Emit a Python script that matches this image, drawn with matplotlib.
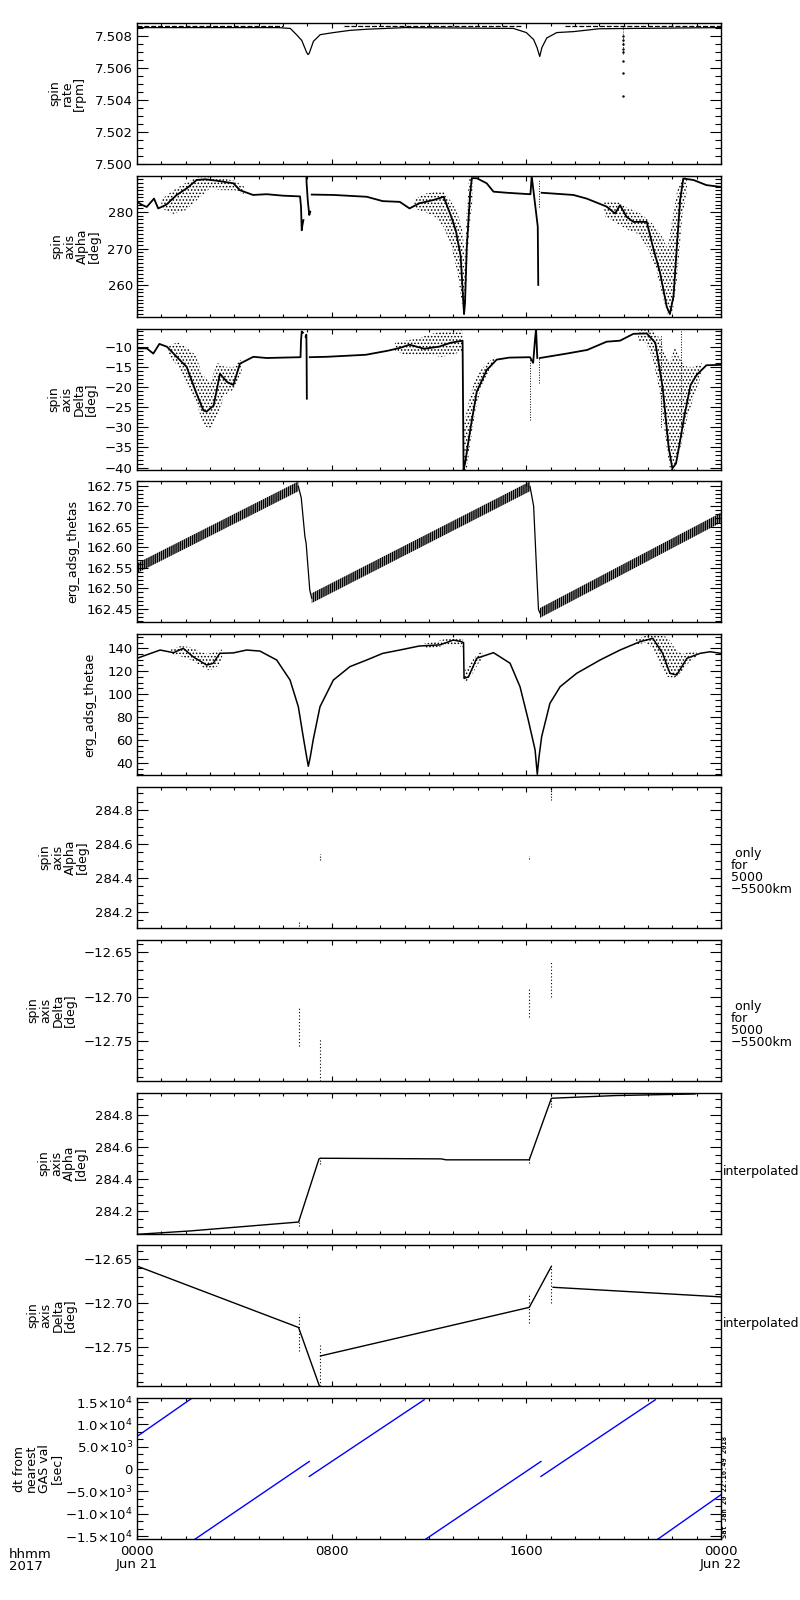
import numpy as np
import matplotlib
matplotlib.use("Agg")
import matplotlib.pyplot as plt
from matplotlib.ticker import MultipleLocator, FuncFormatter

plt.rcParams['font.family'] = ['DejaVu Sans']
plt.rcParams['hatch.linewidth'] = 0.7

# ---- panel 1: spin rate [rpm]
rate_t = [0, 5.8, 6.3, 6.56, 6.77, 6.97, 7.03, 7.08, 7.25, 7.53, 8.08, 8.76, 9.44, 11, 15.47, 16.0,
          16.3, 16.44, 16.55, 16.64, 16.84, 17.25, 17.94, 19.0, 24]
rate_v = [7.50855, 7.50855, 7.50850, 7.50810, 7.50775, 7.50700, 7.50686, 7.50695, 7.50769, 7.50811,
          7.50824, 7.50838, 7.50845, 7.50855, 7.50850, 7.50824, 7.50780, 7.50730, 7.50674, 7.50730,
          7.50790, 7.50824, 7.50830, 7.50848, 7.50855]
strand_t = [0, 6.0, np.nan, 8.5, 15.8, np.nan, 17.6, 24]
strand_v = [7.50868, 7.50868, np.nan, 7.50868, 7.50868, np.nan, 7.50868, 7.50868]
outl_t = [19.98] * 8
outl_v = [7.5080, 7.5078, 7.5075, 7.5072, 7.5070, 7.50643, 7.5057, 7.50429]

# ---- panel 2: spin axis alpha
alpha_t = [0, 0.2, 0.4, 0.7, 0.87, 1.2, 1.63, 2.04, 2.45, 2.8, 3.28, 3.96, 4.23, 4.77, 5.33, 6.0, 6.7,
           6.74, 6.77, 6.80, 6.84]
alpha_v = [282.8, 282.0, 281.4, 283.7, 281.0, 282.0, 284.7, 286.5, 288.8, 289.0, 288.6, 287.9, 286.0,
           284.7, 284.9, 284.5, 284.3, 281.5, 275, 276.5, 277.8]
alpha_t2 = [6.96, 6.97, 7.02, 7.08, 7.12]
alpha_v2 = [289.9, 288, 283, 279.2, 280.1]
alpha_t3 = [7.18, 8.07, 9.44, 10.1, 10.8, 11.2, 11.6, 12.18, 12.6, 12.9, 13.1, 13.3, 13.44, 13.48,
            13.55, 13.69, 13.76, 13.96, 14.37, 14.65, 15.2, 16.15, 16.17, 16.22, 16.47, 16.49]
alpha_v3 = [284.8, 284.7, 284.2, 283.0, 282.8, 281.0, 282.4, 283.3, 284.2, 279, 275, 268, 252, 255,
            270, 285, 289.3, 289.3, 287.9, 285.6, 285.3, 284.9, 284.9, 289.9, 276, 260]
alpha_t4 = [16.63, 17.93, 18.48, 19.3, 19.65, 19.85, 20.12, 20.4, 20.95, 21.2, 21.5, 21.77, 21.9,
            22.05, 22.2, 22.32, 22.45, 22.87, 23.4, 24]
alpha_v4 = [285.3, 284.7, 283.7, 281.5, 279.6, 281.9, 278.7, 277.3, 277.3, 270.5, 263.2, 254, 252,
            257, 272, 283.3, 289.2, 288.8, 287.4, 286.9]
alpha_cloud_t = [[1.0, 1.5, 2.0, 2.5, 3.0, 3.5, 4.0, 4.4],
                 [11.4, 11.8, 12.2, 12.6, 12.9, 13.15, 13.35, 13.45],
                 [13.45, 13.55, 13.65, 13.8],
                 [19.2, 19.7, 20.2, 20.6, 21.0, 21.3, 21.6, 21.8, 22.0, 22.2, 22.4, 22.6]]
alpha_cloud_lo = [[281, 279.5, 280.5, 283.5, 286.5, 286, 286, 285],
                  [281, 280, 279, 276, 271, 264, 255, 252],
                  [252, 262, 275, 284],
                  [279, 277, 275, 274, 270, 265, 257, 252, 252, 262, 278, 286]]
alpha_cloud_hi = [[283.5, 286, 288, 289.6, 289.6, 289.3, 288.6, 287],
                  [283.5, 285, 285.5, 285.5, 283, 280, 276, 270],
                  [262, 280, 289.5, 289.9],
                  [283, 283, 281, 280, 278, 276, 273, 270, 278, 286, 289.8, 289.8]]

# ---- panel 3: spin axis delta
delta_t = [0, 0.4, 0.67, 0.92, 1.23, 1.63, 2.04, 2.45, 2.73, 2.86, 3.15, 3.41, 3.7, 3.96, 4.23, 4.78,
           5.33, 6.0, 6.72, 6.74, 6.77, 6.82]
delta_v = [-10.4, -10.4, -11.7, -9.3, -10.0, -12.5, -15.0, -21.7, -25.8, -26.1, -24.6, -16.7, -18.75,
           -19.5, -14.2, -12.5, -12.8, -12.7, -12.6, -8.5, -6.2, -6.5]
delta_t2 = [6.93, 6.96, 6.97, 6.98]
delta_v2 = [-7.5, -7.0, -12, -22.9]
delta_t3 = [7.1, 7.8, 9.4, 10.3, 10.8, 11.2, 11.8, 12.4, 12.9, 13.38, 13.42, 13.48, 13.69, 13.96,
            14.37, 14.78, 15.3, 16.15, 16.28, 16.36, 16.40, 16.45]
delta_v3 = [-12.6, -12.5, -12.0, -11.0, -10.3, -9.5, -10.5, -10.0, -9.0, -8.5, -40.6, -39, -30.8,
            -21.2, -15.8, -13.2, -12.7, -12.6, -14, -8, -5.6, -12.8]
delta_t4 = [16.56, 17.66, 18.5, 19.3, 19.85, 20.4, 20.95, 21.3, 21.6, 21.85, 22.0, 22.15, 22.3, 22.5,
            22.75, 23.0, 23.4, 24]
delta_v4 = [-12.8, -11.7, -10.8, -8.75, -8.5, -6.8, -6.7, -9, -20, -35, -40.2, -39, -34, -27, -19.5,
            -17, -14.6, -14.5]
delta_cloud_t = [[1.3, 1.7, 2.0, 2.4, 2.7, 3.0, 3.3, 3.6, 4.0, 4.3],
                 [10.6, 11.0, 11.5, 12.0, 12.5, 13.0, 13.38],
                 [13.42, 13.55, 13.7, 13.9, 14.1, 14.4, 14.7],
                 [20.6, 20.9, 21.2, 21.5, 21.7, 21.9, 22.1, 22.3, 22.6, 22.9, 23.2]]
delta_cloud_lo = [[-12, -15, -19, -23, -29, -30.8, -27, -22, -20.5, -16],
                  [-11, -12, -12, -12, -12.5, -12, -11],
                  [-40.6, -40.6, -34, -26, -21, -17, -14],
                  [-8.5, -9, -13, -22, -32, -40.6, -40.6, -36, -28, -22, -17]]
delta_cloud_hi = [[-9.5, -9, -10, -12, -17, -19, -14, -15, -15, -13],
                  [-9, -8.5, -8, -7, -6.2, -6, -6],
                  [-30, -26, -22, -18, -16, -14, -12.5],
                  [-5.8, -5.8, -6, -8, -12, -14, -10, -13, -15, -15, -14]]
delta_dots = [(16.17, -28.3, -12.6), (16.53, -19, -12.8), (21.55, -30, -7), (22.35, -32, -6)]

# ---- panel 4: erg_adsg_thetas
thetas_band_t = [[0, 6.63], [7.18, 16.15], [16.56, 24]]
thetas_band_lo = [[162.537, 162.736], [162.464, 162.736], [162.428, 162.660]]
thetas_band_hi = [[162.561, 162.760], [162.488, 162.760], [162.452, 162.684]]
thetas_drop_t = [[6.63, 6.75, 6.9, 6.95, 7.1, 7.18], [16.15, 16.3, 16.44, 16.5, 16.56]]
thetas_drop_v = [[162.748, 162.72, 162.626, 162.61, 162.496, 162.476],
                 [162.748, 162.70, 162.52, 162.448, 162.44]]

# ---- panel 5: erg_adsg_thetae
thetae_t = [0, 0.95, 1.5, 1.9, 2.3, 2.86, 3.13, 3.4, 3.96, 4.5, 5.05, 5.74, 6.29, 6.63, 6.83, 6.97,
            7.04, 7.12, 7.24, 7.52, 8.07, 8.75, 9.44, 10.1, 10.8, 11.6, 12.45, 13.0, 13.3, 13.42,
            13.44, 13.62, 13.96, 14.65, 15.33, 15.74, 16.08, 16.36, 16.45, 16.52, 16.63, 16.97,
            17.39, 18.07, 19.03, 19.85, 20.67, 21.2, 21.6, 21.9, 22.18, 22.6, 23.14, 23.55, 24]
thetae_v = [131.3, 138.5, 136.2, 140, 132.7, 125.4, 126.9, 135.6, 136, 138.5, 137.6, 129.8, 112.3,
            89, 62.9, 45.4, 37, 45, 60, 89, 112.3, 124, 129.8, 135.6, 138.5, 142, 143, 147.2, 146,
            145, 113.8, 115, 131.3, 136.2, 127, 106.5, 77.4, 51.3, 30, 45, 62.9, 92, 106.5, 118.2,
            129.8, 138.5, 145.8, 148.7, 135.6, 118.2, 116.7, 131.3, 135.6, 137, 135.6]
thetae_cloud_t = [[1.4, 1.8, 2.2, 2.6, 2.9, 3.2, 3.5],
                  [11.8, 12.3, 12.8, 13.2, 13.4],
                  [13.44, 13.6, 13.8, 14.0, 14.2],
                  [20.5, 20.9, 21.2, 21.5, 21.8, 22.1, 22.4, 22.7, 23.0]]
thetae_cloud_lo = [[134, 133, 130, 125, 121, 122, 130],
                   [140, 141, 143, 143, 140],
                   [110, 112, 118, 126, 131],
                   [143, 145, 140, 125, 115, 114, 120, 128, 133]]
thetae_cloud_hi = [[139, 142, 141, 137, 135, 137, 139],
                   [144, 146, 149, 149, 148],
                   [120, 124, 130, 135, 138],
                   [148, 151, 152, 151, 150, 140, 135, 137, 138]]

# ---- panels 6/7: only for 5000-5500 km (time, low, high)
alpha_sel = [(6.64, 284.115, 284.14), (7.54, 284.505, 284.54), (16.12, 284.51, 284.53),
             (17.03, 284.86, 284.935)]
delta_sel = [(6.64, -12.755, -12.713), (7.54, -12.795, -12.748), (16.12, -12.723, -12.691),
             (17.03, -12.70, -12.66)]

# ---- panels 8/9: interpolated
alpha_int_t = [0, 2.17, 6.64, 7.48, 7.54, 12.5, 12.7, 16.12, 17.03, 19.66, 22.93]
alpha_int_v = [284.053, 284.074, 284.13, 284.526, 284.53, 284.526, 284.52, 284.52, 284.906, 284.923,
               284.933]
delta_int_t = [[0, 6.64, 7.56], [7.54, 16.12, 17.03], [17.1, 24]]
delta_int_v = [[-12.6577, -12.728, -12.80], [-12.7606, -12.705, -12.658], [-12.682, -12.693]]

# ---- panel 10: dt from nearest GAS val
dt_t0 = [0, 2.38, 7.08, 11.86, 16.6, 21.4]
dt_t1 = [2.27, 7.08, 11.8, 16.6, 21.3, 24]
dt_v0 = [7300, -15700, -1650, -15700, -1650, -15700]
dt_v1 = [15900, 1700, 15500, 1700, 15500, -5740]

ylabels = ["spin\nrate\n[rpm]", "spin\naxis\nAlpha\n[deg]", "spin\naxis\nDelta\n[deg]",
           "erg_adsg_thetas", "erg_adsg_thetae", "spin\naxis\nAlpha\n[deg]",
           "spin\naxis\nDelta\n[deg]", "spin\naxis\nAlpha\n[deg]", "spin\naxis\nDelta\n[deg]",
           "dt from\nnearest\nGAS val\n[sec]"]
ylabel_x = [67, 76, 73, 73, 90, 64, 52, 63, 52, 38]
ylims = [(7.500, 7.50884), (251.2, 289.9), (-40.6, -5.6), (162.418, 162.761), (29.4, 152.5),
         (284.104, 284.936), (-12.795, -12.636), (284.055, 284.939), (-12.795, -12.6336),
         (-15650, 15900)]
majors = [0.002, 10, 5, 0.05, 20, 0.2, 0.05, 0.2, 0.05, 5000]
minors = [0.0005, 1, 1, 0.01, 5, 0.05, 0.01, 0.05, 0.01, 5000 / 3]
decimals = [3, 0, 0, 2, 0, 1, 2, 1, 2, None]


def dt_fmt(v, pos):
    if abs(v) < 1:
        return "0"
    e = int(np.floor(np.log10(abs(v))))
    m = v / 10 ** e
    s = r"$%.1f{\times}10^{%d}$" % (abs(m), e)
    return ("\u2212" if v < 0 else "") + s


def num_fmt(nd):
    return FuncFormatter(lambda v, p: ("%.*f" % (nd, v)).replace("-", "\u2212"))


W, H = 800, 1600
fig = plt.figure(figsize=(8, 16), dpi=100)
tops = [23, 176, 329, 481, 634, 787, 940, 1093, 1245, 1398]
left, right, ph = 137, 721, 141
axes = []
for i in range(10):
    ax = fig.add_axes([left / W, 1 - (tops[i] + ph) / H, (right - left) / W, ph / H])
    ax.set_xlim(0, 24)
    ax.set_ylim(*ylims[i])
    ax.xaxis.set_major_locator(MultipleLocator(8))
    ax.xaxis.set_minor_locator(MultipleLocator(1))
    ax.yaxis.set_major_locator(MultipleLocator(majors[i]))
    ax.yaxis.set_minor_locator(MultipleLocator(minors[i]))
    if decimals[i] is None:
        ax.yaxis.set_major_formatter(FuncFormatter(dt_fmt))
    else:
        ax.yaxis.set_major_formatter(num_fmt(decimals[i]))
    ax.tick_params(which='both', direction='in', top=True, right=True, width=0.8,
                   labelsize=9.5, pad=3)
    ax.tick_params(axis='y', which='major', length=8)
    ax.tick_params(axis='y', which='minor', length=4)
    ax.tick_params(axis='x', which='major', length=3.5)
    ax.tick_params(axis='x', which='minor', length=2)
    ax.tick_params(axis='x', labelbottom=False)
    for sp in ax.spines.values():
        sp.set_linewidth(1.0)
    fig.text(ylabel_x[i] / W, 1 - (tops[i] + ph / 2) / H, ylabels[i], rotation=90,
             ha='center', va='center', multialignment='center', fontsize=9, linespacing=0.95)
    axes.append(ax)


def clouds(ax, ts, los, his):
    for t, lo, hi in zip(ts, los, his):
        ax.fill_between(t, lo, hi, facecolor='none', edgecolor='black', hatch='.....', linewidth=0)


# panel 1
ax = axes[0]
ax.plot(rate_t, rate_v, color='black', lw=0.9)
ax.plot(strand_t, strand_v, color='black', lw=0.9, ls=(0, (4, 1.5)))
ax.plot(outl_t, outl_v, 'k.', ms=1.5)
ax.vlines(19.98, 7.5069, 7.5086, color='black', lw=0.6, ls=':')

# panel 2
ax = axes[1]
clouds(ax, alpha_cloud_t, alpha_cloud_lo, alpha_cloud_hi)
for t, v in [(alpha_t, alpha_v), (alpha_t2, alpha_v2), (alpha_t3, alpha_v3), (alpha_t4, alpha_v4)]:
    ax.plot(t, v, color='black', lw=1.3)
ax.vlines(16.53, 281.5, 288.8, color='black', lw=0.7, ls=':')

# panel 3
ax = axes[2]
clouds(ax, delta_cloud_t, delta_cloud_lo, delta_cloud_hi)
for t, v in [(delta_t, delta_v), (delta_t2, delta_v2), (delta_t3, delta_v3), (delta_t4, delta_v4)]:
    ax.plot(t, v, color='black', lw=1.3)
for t, lo, hi in delta_dots:
    ax.vlines(t, lo, hi, color='black', lw=0.7, ls=':')

# panel 4: striped band
ax = axes[3]
plt.rcParams['hatch.linewidth'] = 1.1
for t, lo, hi in zip(thetas_band_t, thetas_band_lo, thetas_band_hi):
    ax.fill_between(t, lo, hi, facecolor='none', edgecolor='black', hatch='||||||||', linewidth=0)
plt.rcParams['hatch.linewidth'] = 0.7
for t, v in zip(thetas_drop_t, thetas_drop_v):
    ax.plot(t, v, color='black', lw=0.9)

# panel 5
ax = axes[4]
clouds(ax, thetae_cloud_t, thetae_cloud_lo, thetae_cloud_hi)
ax.plot(thetae_t, thetae_v, color='black', lw=1.1)

# panels 6, 7
for t, lo, hi in alpha_sel:
    axes[5].vlines(t, lo, hi, color='black', lw=0.8, ls=(0, (1, 1.5)))
for t, lo, hi in delta_sel:
    axes[6].vlines(t, lo, hi, color='black', lw=0.8, ls=(0, (1, 2)))

# panels 8, 9
axes[7].plot(alpha_int_t, alpha_int_v, color='black', lw=1.0)
for t, lo, hi in alpha_sel:
    axes[7].vlines(t, lo - 0.01, hi + 0.005, color='black', lw=0.8, ls=(0, (1, 1.5)))
for t, v in zip(delta_int_t, delta_int_v):
    axes[8].plot(t, v, color='black', lw=1.0)
for t, lo, hi in delta_sel:
    axes[8].vlines(t, lo, hi, color='black', lw=0.8, ls=(0, (1, 2)))

# panel 10
ax = axes[9]
for a, b, c, d in zip(dt_t0, dt_t1, dt_v0, dt_v1):
    ax.plot([a, b], [c, d], color='blue', lw=1.0)
ax.set_xticks([0, 8, 16, 24])
ax.set_xticklabels(["0000\nJun 21", "0800", "1600", "0000\nJun 22"])
ax.tick_params(axis='x', labelbottom=True, pad=4.5, labelsize=9.5)
for lab in ax.get_xticklabels():
    lab.set_linespacing(0.95)
fig.text(9 / W, 1 - 1548 / H, "hhmm\n2017", ha='left', va='top', fontsize=9.5, linespacing=0.95)

# right side notes
for i in [5, 6]:
    fig.text(731 / W, 1 - (tops[i] + ph / 2 + 14) / H, " only\nfor\n5000\n\u22125500km",
             ha='left', va='center', fontsize=9, linespacing=0.9)
for i in [7, 8]:
    fig.text(723 / W, 1 - (tops[i] + ph / 2 + 8) / H, "interpolated",
             ha='left', va='center', fontsize=9)
fig.text(725 / W, 1 - 1538 / H, "Sat Jan 20 22:16:49 2018", rotation=90, ha='center',
         va='bottom', fontsize=5, family='DejaVu Sans Mono', weight='bold')

fig.savefig("out.png", dpi=100)
